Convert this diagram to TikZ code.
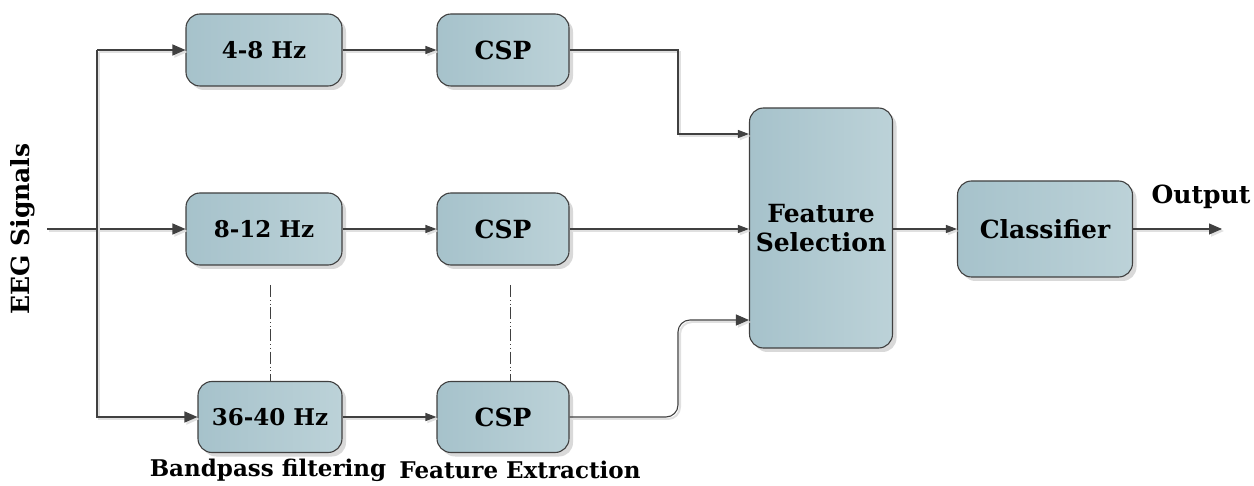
\documentclass[tikz,border=0pt]{standalone}
\usepackage{fontspec}
\setmainfont{DejaVu Serif}
\usetikzlibrary{arrows.meta,shadows,positioning}
\definecolor{boxA}{RGB}{166,194,203}
\definecolor{boxB}{RGB}{188,210,216}
\definecolor{edgec}{RGB}{64,64,64}
\tikzset{
  blk/.style={rounded corners=14pt, draw=edgec, line width=1.1pt,
    left color=boxA, right color=boxB,
    drop shadow={shadow xshift=4pt, shadow yshift=-4pt, fill=black!15, opacity=1},
    font=\bfseries\fontsize{25}{29}\selectfont, align=center, inner sep=0pt},
  numf/.style={font=\bfseries\fontsize{23}{27}\selectfont},
  conn/.style={draw=edgec, line width=1.1pt,
    preaction={draw=black!12, line width=2pt, transform canvas={shift={(2pt,-2pt)}}}},
  bigarr/.style={-{Triangle[length=13pt,width=11pt]}},
  smallarr/.style={-{Triangle[length=11pt,width=8pt]}},
  dd/.style={draw=edgec, line width=0.9pt, dash pattern=on 12pt off 3pt on 0.6pt off 3pt on 0.6pt off 3pt},
  lbl/.style={font=\bfseries\fontsize{25}{29}\selectfont},
  sublbl/.style={font=\bfseries\fontsize{23}{27}\selectfont}
}
\begin{document}
\begin{tikzpicture}[x=1pt,y=-1pt]
\useasboundingbox (0,0) rectangle (1254,486);
\node[blk, numf, minimum width=156pt, minimum height=72pt] (f1) at (264,50) {4-8 Hz};
\node[blk, numf, minimum width=156pt, minimum height=72pt] (f2) at (264,229) {8-12 Hz};
\node[blk, numf, minimum width=144pt, minimum height=71pt] (f3) at (270,417) {36-40 Hz};
\node[blk, minimum width=132pt, minimum height=72pt] (c1) at (503,50) {CSP};
\node[blk, minimum width=132pt, minimum height=72pt] (c2) at (503,229) {CSP};
\node[blk, minimum width=132pt, minimum height=71pt] (c3) at (503,417) {CSP};
\node[blk, minimum width=143pt, minimum height=240pt] (fs) at (821,228) {Feature\\Selection};
\node[blk, minimum width=175pt, minimum height=96pt] (cl) at (1045,229) {Classifier};

\coordinate (in) at (47,229);
\coordinate (sp) at (97,229);
\coordinate (out) at (1222,229);

\node[lbl, rotate=90] (eeg) at (23,229) {EEG Signals};
\node[sublbl] (bp) at (268,470) {Bandpass filtering};
\node[sublbl] (fe) at (520,470) {Feature Extraction};
\node[lbl] (ol) at (1201,197) {Output};

\draw[conn, bigarr] (in) -- (f2.west);
\draw[conn, bigarr] (sp |- f1.west) -- (f1.west);
\draw[conn, bigarr] (sp |- f1.west) -- (sp |- f3.west) -- (f3.west);
\draw[conn, smallarr] (f1) -- (c1);
\draw[conn, smallarr] (f2) -- (c2);
\draw[conn, smallarr] (f3) -- (c3);
\draw[conn, smallarr] (c1.east) -- (678,50) -- (678,134) -- (fs.west |- 0,134);
\draw[conn, smallarr] (c2.east) -- (fs.west |- c2.east);
\draw[conn, bigarr, rounded corners=12pt] (c3.east) -- (678,417) -- (678,320) -- (fs.west |- 0,320);
\draw[conn, smallarr] (fs.east |- cl.west) -- (cl.west);
\draw[conn, bigarr] (cl.east) -- (out);
\draw[dd] (270,285) -- (f3.north);
\draw[dd] (510,285) -- (510,382);
\end{tikzpicture}
\end{document}
